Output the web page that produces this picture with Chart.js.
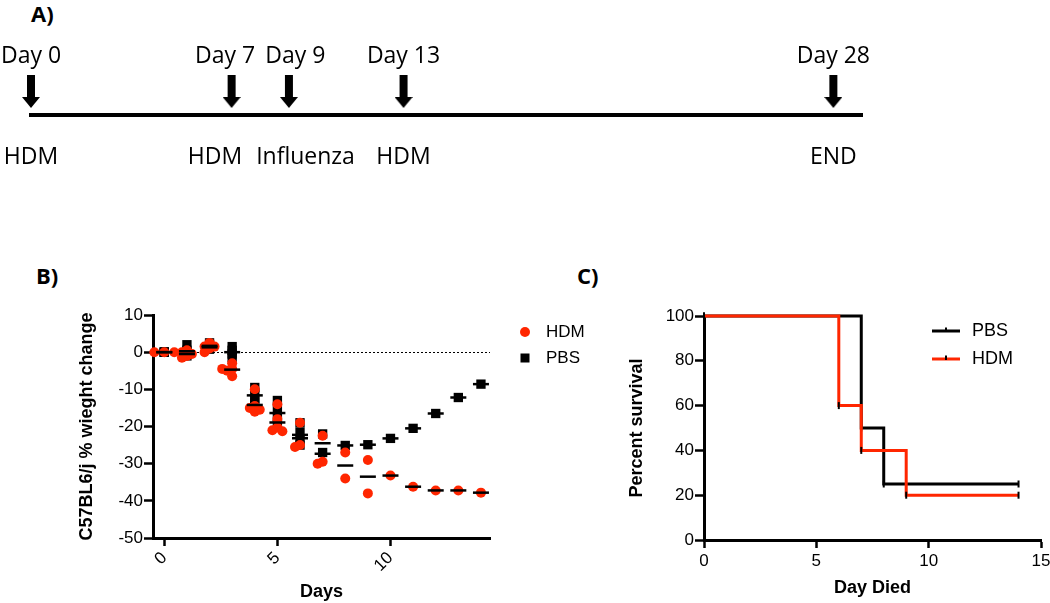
<!DOCTYPE html>
<html>
<head>
<meta charset="utf-8">
<script src="https://cdn.jsdelivr.net/npm/chart.js@4.4.0/dist/chart.umd.min.js"></script>
<style>
  html, body { margin: 0; padding: 0; background: #fff; overflow: hidden; }
  #page { position: relative; width: 1050px; height: 603px; overflow: hidden; }
  .box { position: absolute; }
  .tag { position: absolute; font: bold 22px "Open Sans", sans-serif; color: #000; line-height: 1; }
</style>
</head>
<body>
<div id="page">
  <div class="tag" style="left:31px; top:2px">A)</div>
  <div class="tag" style="left:36px; top:264px">B)</div>
  <div class="tag" style="left:577px; top:264px">C)</div>
  <canvas id="timeline" class="box" style="left:0; top:0" width="1050" height="200"></canvas>
  <canvas id="weight" class="box" style="left:0; top:270px" width="600" height="333"></canvas>
  <canvas id="survival" class="box" style="left:600px; top:270px" width="470" height="333"></canvas>
</div>
<script>
// panel A - protocol timeline
const eventDays = [0, 7, 9, 13, 28];
const eventTitles = ['Day 0', 'Day 7', 'Day 9', 'Day 13', 'Day 28'];
const eventTreatments = ['HDM', 'HDM', 'Influenza', 'HDM', 'END'];

// panel B - weight change per day, one list per day
const weightDays = [0, 1, 2, 3, 4, 5, 6, 7, 8, 9, 10, 11, 12, 13, 14];
const hdmWeight = [
  [0, 0, 0, 0, 0],
  [0.5, 0, -0.5, -1, -1.5],
  [2.5, 1.5, 1.5, 1, 0],
  [-3, -4.5, -4.5, -5, -6.5],
  [-10, -14.5, -15, -15.5, -16],
  [-14, -18, -20.3, -21, -21.3],
  [-19, -25, -25.5],
  [-22.5, -29.5, -30],
  [-27, -34],
  [-29, -38],
  [-33.2],
  [-36.2],
  [-37.2],
  [-37.2],
  [-37.8]
];
const pbsWeight = [
  [0, 0, 0, 0],
  [2, 0.5, -0.5, -1],
  [2.5, 2, 1.5, 0.8],
  [1.5, 0.5, -0.5, -1.5],
  [-9.5, -11, -12.5, -13.5],
  [-13, -15.5, -17.5, -19.5],
  [-19, -21.5, -23.5, -25],
  [-22, -27],
  [-25.1],
  [-24.9],
  [-23.2],
  [-20.5],
  [-16.5],
  [-12.2],
  [-8.6]
];
const weightTicksX = [0, 5, 10];
const weightTicksY = [10, 0, -10, -20, -30, -40, -50];

// panel C - survival curves
const pbsSurvDays = [0, 7, 8, 14];
const pbsSurvPct = [100, 50, 25, 25];
const hdmSurvDays = [0, 6, 7, 9, 14];
const hdmSurvPct = [100, 60, 40, 20, 20];
const survTicksX = [0, 5, 10, 15];
const survTicksY = [0, 20, 40, 60, 80, 100];

const RED = '#ff2600';
Chart.defaults.font.family = '"Liberation Sans", Arial, sans-serif';
Chart.defaults.color = '#000';
Chart.defaults.animation = false;
Chart.defaults.events = [];
Chart.defaults.plugins.legend.display = false;
Chart.defaults.plugins.tooltip.enabled = false;

const mean = a => a.reduce((s, v) => s + v, 0) / a.length;

// spread overlapping circles sideways (scatter dot plot look)
function swarm(groups, minGap, step) {
  const out = [];
  groups.forEach((vals, i) => {
    const day = weightDays[i];
    const placed = [];
    vals.forEach(v => {
      for (let k = 0; k < 12; k++) {
        const x = day + (k % 2 ? -1 : 1) * Math.ceil(k / 2) * step;
        const free = placed.every(p => Math.hypot((p.x - x) * 22.6, (p.y - v) * 3.7) >= minGap);
        if (free || k === 11) { placed.push({ x: x, y: v }); break; }
      }
    });
    out.push(...placed);
  });
  return out;
}

function arrowImage() {
  const c = document.createElement('canvas');
  c.width = 18; c.height = 80;
  const g = c.getContext('2d');
  g.fillStyle = '#000';
  g.fillRect(5, 0, 8, 24);
  g.beginPath();
  g.moveTo(0, 22); g.lineTo(18, 22); g.lineTo(9, 33);
  g.closePath();
  g.fill();
  return c;
}

// centre labels on their arrows, pushing neighbours apart when they collide
function placeRow(ctx, texts, xs, gap) {
  const boxes = texts.map((t, i) => ({ t: t, c: xs[i], w: ctx.measureText(t).width }));
  for (let i = 1; i < boxes.length; i++) {
    const a = boxes[i - 1], b = boxes[i];
    const over = (a.c + a.w / 2 + gap) - (b.c - b.w / 2);
    if (over > 0) { a.c -= over / 2; b.c += over / 2; }
  }
  return boxes;
}

const eventText = {
  id: 'eventText',
  afterDatasetsDraw(chart) {
    const ctx = chart.ctx;
    const pts = chart.getDatasetMeta(0).data;
    const xs = pts.map(p => p.x);
    const y0 = pts[0].y;
    ctx.save();
    ctx.font = '23px "Open Sans", sans-serif';
    ctx.fillStyle = '#000';
    ctx.textAlign = 'center';
    ctx.textBaseline = 'alphabetic';
    placeRow(ctx, eventTitles, xs, 10).forEach(b => ctx.fillText(b.t, b.c, y0 - 52));
    placeRow(ctx, eventTreatments, xs, 14).forEach(b => ctx.fillText(b.t, b.c, y0 + 49));
    ctx.restore();
  }
};

const zeroLine = {
  id: 'zeroLine',
  beforeDatasetsDraw(chart) {
    const { ctx, chartArea, scales } = chart;
    const y = Math.round(scales.y.getPixelForValue(0)) + 0.5;
    ctx.save();
    ctx.strokeStyle = '#000';
    ctx.lineWidth = 1;
    ctx.setLineDash([2, 2]);
    ctx.beginPath();
    ctx.moveTo(chartArea.left, y);
    ctx.lineTo(chartArea.right, y);
    ctx.stroke();
    ctx.restore();
  }
};

const sideLegend = {
  id: 'sideLegend',
  afterDraw(chart, args, opts) {
    const { ctx, chartArea } = chart;
    ctx.save();
    opts.items.forEach((idx, i) => {
      const ds = chart.data.datasets[idx];
      const x = chartArea.right + opts.left;
      const y = chartArea.top + opts.top + i * opts.gap;
      if (opts.kind === 'point') {
        ctx.fillStyle = ds.backgroundColor;
        if (ds.pointStyle === 'rect') {
          ctx.fillRect(x - 4.5, y - 4.5, 9, 9);
        } else {
          ctx.beginPath();
          ctx.arc(x, y, 5, 0, Math.PI * 2);
          ctx.fill();
        }
      } else {
        ctx.strokeStyle = ds.borderColor;
        ctx.lineWidth = 3;
        ctx.beginPath();
        ctx.moveTo(x - 14, y);
        ctx.lineTo(x + 14, y);
        ctx.stroke();
        ctx.strokeStyle = '#000';
        ctx.lineWidth = 2;
        ctx.beginPath();
        ctx.moveTo(x, y - 3.5);
        ctx.lineTo(x, y + 1);
        ctx.stroke();
      }
      ctx.fillStyle = '#000';
      ctx.font = opts.font;
      ctx.textAlign = 'left';
      ctx.textBaseline = 'middle';
      ctx.fillText(ds.label, x + opts.textGap, y);
    });
    ctx.restore();
  }
};

const tickGrid = len => ({ drawOnChartArea: false, tickLength: len, tickWidth: 2.5, tickColor: '#000' });
const axisBorder = { color: '#000', width: 3 };
const titleFont = { size: 18, weight: 'bold' };
const tickFont = { size: 17 };

// ---- A ----
new Chart(document.getElementById('timeline'), {
  type: 'scatter',
  data: {
    datasets: [{
      data: eventDays.map(d => ({ x: d, y: 0 })),
      pointStyle: arrowImage(),
      pointRadius: 10,
      clip: false
    }]
  },
  options: {
    responsive: false,
    layout: { padding: { left: 31, right: 188, top: 20, bottom: 85 } },
    scales: {
      x: {
        type: 'linear', min: 0, max: 29,
        ticks: { display: false },
        grid: { drawOnChartArea: false, drawTicks: false },
        border: { color: '#000', width: 4 },
        afterFit: s => { s.height = 0; }
      },
      y: { display: false, min: 0, max: 1 }
    }
  },
  plugins: [eventText]
});

// ---- B ----
new Chart(document.getElementById('weight'), {
  type: 'scatter',
  data: {
    datasets: [
      {
        label: 'HDM mean',
        data: hdmWeight.map((v, i) => ({ x: weightDays[i], y: mean(v) })),
        pointStyle: 'line', pointRadius: 8, pointBorderWidth: 2.5,
        borderColor: '#000', order: 0, clip: false
      },
      {
        label: 'PBS mean',
        data: pbsWeight.map((v, i) => ({ x: weightDays[i], y: mean(v) })),
        pointStyle: 'line', pointRadius: 8, pointBorderWidth: 2.5,
        borderColor: '#000', order: 0, clip: false
      },
      {
        label: 'HDM',
        data: swarm(hdmWeight, 5, 0.22),
        pointStyle: 'circle', pointRadius: 5, pointBorderWidth: 0,
        backgroundColor: RED, borderColor: RED, order: 1, clip: false
      },
      {
        label: 'PBS',
        data: pbsWeight.flatMap((v, i) => v.map(y => ({ x: weightDays[i], y: y }))),
        pointStyle: 'rect', pointRadius: 6.6, pointBorderWidth: 0,
        backgroundColor: '#000', borderColor: '#000', order: 2, clip: false
      }
    ]
  },
  options: {
    responsive: false,
    layout: { padding: { left: 0, right: 110, top: 45, bottom: 0 } },
    scales: {
      x: {
        type: 'linear', min: -0.5, max: 14.4,
        afterBuildTicks: s => { s.ticks = weightTicksX.map(v => ({ value: v })); },
        afterFit: s => { s.height = 65; },
        ticks: { font: tickFont, minRotation: 45, maxRotation: 45, padding: 2 },
        grid: tickGrid(8),
        border: axisBorder,
        title: { display: true, text: 'Days', font: titleFont, padding: { top: 0, bottom: 0 } }
      },
      y: {
        type: 'linear', min: -50, max: 10,
        afterBuildTicks: s => { s.ticks = weightTicksY.map(v => ({ value: v })); },
        afterFit: s => { s.width = 153; },
        ticks: { font: tickFont, padding: 1 },
        grid: tickGrid(9),
        border: axisBorder,
        title: { display: true, text: 'C57BL6/j % wieght change', font: titleFont, padding: { top: 76, bottom: 0 } }
      }
    },
    plugins: {
      sideLegend: { kind: 'point', items: [2, 3], left: 35, top: 17, gap: 26, textGap: 21, font: '17px "Liberation Sans", Arial, sans-serif' }
    }
  },
  plugins: [zeroLine, sideLegend]
});

// ---- C ----
const stepLine = (label, xs, ys, color, order) => ({
  label: label,
  data: xs.map((x, i) => ({ x: x, y: ys[i] })),
  showLine: true, stepped: true, fill: false,
  borderColor: color, borderWidth: 3,
  pointStyle: 'line', pointRotation: 90, pointRadius: 3.5,
  pointBorderColor: '#000', pointBorderWidth: 2,
  order: order, clip: false
});

new Chart(document.getElementById('survival'), {
  type: 'scatter',
  data: {
    datasets: [
      stepLine('PBS', pbsSurvDays, pbsSurvPct, '#000', 1),
      stepLine('HDM', hdmSurvDays, hdmSurvPct, RED, 0)
    ]
  },
  options: {
    responsive: false,
    layout: { padding: { left: 0, right: 29, top: 46, bottom: 0 } },
    scales: {
      x: {
        type: 'linear', min: 0, max: 15,
        afterBuildTicks: s => { s.ticks = survTicksX.map(v => ({ value: v })); },
        afterFit: s => { s.height = 63; },
        ticks: { font: tickFont, maxRotation: 0, padding: 3 },
        grid: tickGrid(8),
        border: axisBorder,
        title: { display: true, text: 'Day Died', font: titleFont, padding: { top: 0, bottom: 4 } }
      },
      y: {
        type: 'linear', min: 0, max: 100,
        afterBuildTicks: s => { s.ticks = survTicksY.map(v => ({ value: v })); },
        afterFit: s => { s.width = 104; },
        ticks: { font: tickFont, padding: 1 },
        grid: tickGrid(9),
        border: axisBorder,
        title: { display: true, text: 'Percent survival', font: titleFont, padding: { top: 26, bottom: 0 } }
      }
    },
    plugins: {
      sideLegend: { kind: 'line', items: [0, 1], left: -95, top: 15, gap: 28, textGap: 26, font: '18px "Liberation Sans", Arial, sans-serif' }
    }
  },
  plugins: [sideLegend]
});
</script>
</body>
</html>
